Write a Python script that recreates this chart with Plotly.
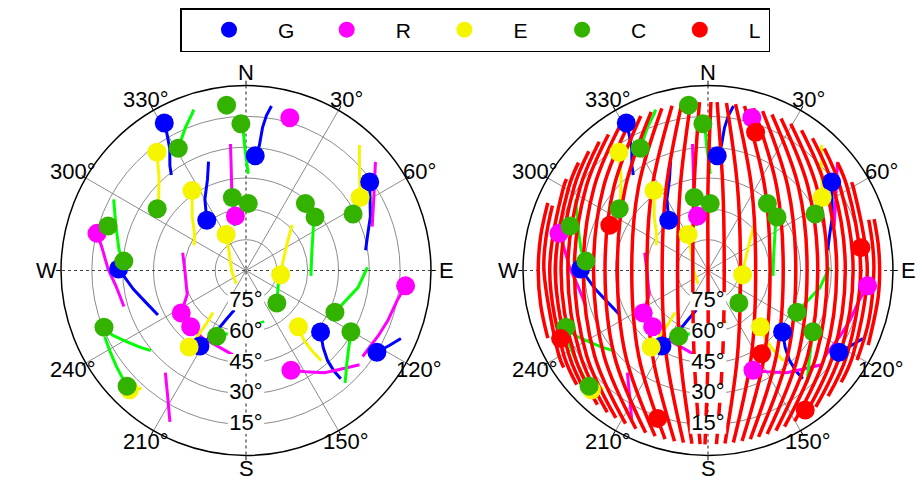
import math
import plotly.graph_objects as go

# ---------------- axes ----------------
AZ_TICKS = [0, 30, 60, 90, 120, 150, 180, 210, 240, 270, 300, 330]
AZ_TEXT = ["N", "30°", "60°", "E", "120°", "150°", "S", "210°", "240°", "W", "300°", "330°"]
EL_RINGS = [75, 60, 45, 30, 15]
EL_TEXT = ["75°", "60°", "45°", "30°", "15°"]
SPOKES_SOLID = [30, 60, 120, 150, 210, 240, 300, 330]
SPOKES_DOTTED = [[0, 180], [90, 270]]

# ---------------- satellite passes (azimuth / elevation, deg) ----------------
# the last point of every pass is the current position
G_AZ = [
    [322, 324, 328, 330, 331],
    [341, 337, 330, 322],
    [8.8, 7.5, 6.6, 6.1, 4.6],
    [80.4, 73.0, 66.5, 54.4],
    [113.7, 117.5, 122.0],
    [138.8, 138.8, 137.8, 134.9, 129.5],
    [196.5, 202.3, 205.9, 211.4],
    [243.2, 252.0, 260.5, 270.7],
]
G_EL = [
    [31, 27, 20, 13, 8],
    [34, 42, 50, 59],
    [9, 14, 20, 29, 34],
    [31, 28, 24, 16],
    [7.7, 11.2, 14.9],
    [20, 25, 31, 37, 43],
    [70, 64, 57, 47],
    [42, 39, 34.5, 28],
]

R_AZ = [
    [353, 352, 350, 349],
    [15.4, 16.0],
    [126.4, 116.0, 109.2, 100.8, 95.5],
    [129.7, 136.3, 142.5, 149.6, 155.7],
    [285.7, 269.5, 247.8, 236.7],
    [185.8, 201.7, 212.1, 224.5],
    [253.6, 263.2, 270.6, 279.3, 284.0],
]
R_EL = [
    [28, 38, 50, 63],
    [10.3, 12.7],
    [19.5, 18.2, 16.8, 14.9, 12.0],
    [18.2, 23.6, 27.3, 32.9, 36.8],
    [58.0, 60.3, 59.1, 52.3],
    [47.5, 50.8, 50.9, 51.6],
    [28.1, 26.3, 22.9, 18.9, 15.3],
]
# passes that have already set (no current position)
R_SET_AZ = [[70.8, 60.3, 50.0], [218.3, 211.9, 206.7]]
R_SET_EL = [[25.0, 18.4, 7.8], [26.7, 17.9, 7.6]]

E_AZ = [
    [308, 317, 323],
    [296, 306, 315, 326],
    [217, 269, 320, 331],
    [42.1, 47.6, 57.4],
    [45.3, 54.1, 75.0, 97.0],
    [140.1, 140.6, 140.3, 137.0],
    [221.5, 224.3],
    [218.2, 216.7, 216.4, 216.6],
]
E_EL = [
    [36, 28, 18],
    [62, 59, 53, 43],
    [82, 83, 77, 70],
    [7.7, 15.3, 24.1],
    [58.4, 64.8, 71.3, 73.0],
    [32.8, 39.6, 45.9, 52.6],
    [13.3, 8.9],
    [64.0, 58.0, 49.9, 43.6],
]

C_AZ = [
    [342, 341, 337, 331],
    [345.5, 348, 349.4],
    [1.3, 0.4, 359.5, 358.9, 358.0],
    [94.7, 75.7, 56.8, 52.2],
    [107.8, 136.5],
    [88.5, 98.7, 107.2, 115.2],
    [138.6, 131.7, 120.3],
    [229.9, 234.2, 239.0, 244.1, 248.2],
    [244.8, 239.6, 233.7, 229.1, 225.8],
    [160.5, 176.1, 184.4, 195.2, 204.0],
    [298.3, 288.7, 279.0, 274.4],
]
C_EL = [
    [7.7, 9.4, 14.5, 22.0],
    [67.7, 59.8, 53.9],
    [43.0, 37.2, 30.6, 22.3, 18.6],
    [58.3, 57.0, 50.8, 47.5],
    [73.4, 68.2],
    [30.9, 34.9, 39.5, 42.2],
    [17.1, 24.1, 30.9],
    [29.5, 26.3, 22.5, 17.9, 15.6],
    [14.1, 13.1, 11.6, 10.4, 9.3],
    [63.6, 62.6, 61.7, 58.2, 55.0],
    [16.9, 23.2, 27.5, 30.4],
]
# geostationary satellites (no visible motion)
C_FIXED_AZ = [304.8, 1.9, 353.3, 41.5, 62.2, 287.9]
C_FIXED_EL = [37.4, 57.4, 9.0, 46.4, 31.1, 19.5]

L_AZ = [
    [357.1, 350.5, 270, 189.3, 182.6],
    [354.1, 341.5, 270, 198.1, 185.3],
    [351.0, 333.3, 270, 206.1, 188.1],
    [347.7, 326.1, 270, 213.1, 191.1],
    [344.1, 320.0, 270, 219.2, 194.3],
    [340.3, 315.1, 270, 224.1, 197.7],
    [336.5, 311.4, 270, 227.7, 201.0],
    [332.5, 308.5, 270, 230.7, 204.5],
    [328.2, 306.1, 270, 233.1, 208.3],
    [323.8, 304.3, 270, 235.0, 212.0],
    [319.8, 303.0, 270, 236.3, 215.4],
    [315.0, 301.8, 270, 237.5, 219.5],
    [309.8, 300.8, 270, 238.5, 223.7],
    [302.9, 299.9, 270, 239.4, 229.0],
    [292.6, 281.4, 270, 240.3, 236.1],
    [292.9, 281.7, 270, 258.3, 247.1],
    [1.0, 0.0, 90, 180.0, 181.0],
    [3.1, 10.1, 90, 170.2, 177.2],
    [6.3, 19.6, 90, 160.9, 174.4],
    [9.4, 27.7, 90, 153.0, 171.6],
    [12.5, 34.3, 90, 146.5, 168.7],
    [15.7, 39.6, 90, 141.2, 165.9],
    [18.9, 43.9, 90, 136.9, 163.1],
    [22.3, 47.5, 90, 133.4, 160.1],
    [25.7, 50.3, 90, 130.5, 157.0],
    [29.4, 52.6, 90, 128.2, 153.9],
    [33.7, 54.8, 90, 126.0, 150.1],
    [38.3, 56.5, 90, 124.3, 146.1],
    [43.6, 57.9, 90, 122.8, 141.7],
    [50.2, 59.2, 90, 121.5, 136.3],
    [58.4, 60.3, 90, 120.4, 130.0],
    [72.5, 81.6, 90, 107.6, 121.0],
    [72.8, 81.1, 90, 98.9, 115.0],
]
L_EL = [
    [8, 49.0, 82.6, 48.1, 5.4],
    [8, 47.4, 75.2, 46.5, 5.4],
    [8, 44.8, 67.7, 43.9, 5.4],
    [8, 41.3, 60.3, 40.6, 5.4],
    [8, 37.3, 52.9, 36.6, 5.4],
    [8, 33.0, 45.9, 32.4, 5.4],
    [8, 28.9, 39.9, 28.4, 5.4],
    [8, 25.0, 34.3, 24.6, 5.4],
    [8, 21.4, 29.3, 21.0, 5.4],
    [8, 18.2, 25.0, 17.9, 5.4],
    [8, 15.8, 21.8, 15.4, 5.4],
    [8, 13.3, 18.5, 13.0, 5.4],
    [8, 11.1, 15.8, 10.8, 5.4],
    [8, 8.9, 13.0, 8.6, 5.4],
    [8, 9.6, 10.2, 6.5, 5.4],
    [5.4, 6.9, 7.4, 6.9, 5.4],
    [8, 49.6, 90, 48.6, 5.4],
    [8, 48.9, 82.1, 48.0, 5.4],
    [8, 47.1, 74.2, 46.2, 5.4],
    [8, 44.4, 66.8, 43.5, 5.4],
    [8, 41.0, 59.8, 40.3, 5.4],
    [8, 37.5, 53.4, 36.9, 5.4],
    [8, 33.9, 47.3, 33.3, 5.4],
    [8, 30.2, 41.8, 29.7, 5.4],
    [8, 26.7, 36.6, 26.2, 5.4],
    [8, 23.4, 32.0, 23.0, 5.4],
    [8, 20.0, 27.4, 19.6, 5.4],
    [8, 16.8, 23.2, 16.5, 5.4],
    [8, 14.0, 19.4, 13.7, 5.4],
    [8, 11.1, 15.8, 10.8, 5.4],
    [8, 8.6, 12.5, 8.3, 5.4],
    [8, 9.0, 9.3, 8.0, 5.4],
    [5.4, 6.2, 6.5, 6.2, 4.0],
]
L_NOW_AZ = [19.0, 294.8, 81.5, 245.2, 198.8, 147.2, 145.1]
L_NOW_EL = [18.9, 37.4, 14.8, 11.0, 14.0, 41.8, 7.3]

# ---------------- styling ----------------
FONT = "Liberation Sans, Arial, sans-serif"
MARK_COLOR = {"G": "#0000ff", "R": "#ff00ff", "E": "#f5f500", "C": "#33b300", "L": "#ff0000"}
TRACK_COLOR = {"G": "#0000ff", "R": "#ff00ff", "E": "#f5f500", "C": "#00ff00", "L": "#ff0000"}
W, H = 918, 480
RADIUS = 185
CENTERS = [(246, 270.5), (708, 270.5)]
AZ_LABEL_DX, AZ_LABEL_DY = 200, 198  # azimuth label distance from the centre, px

TRACKS = {
    "G": [(G_AZ, G_EL)],
    "R": [(R_AZ, R_EL), (R_SET_AZ, R_SET_EL)],
    "E": [(E_AZ, E_EL)],
    "C": [(C_AZ, C_EL)],
    "L": [(L_AZ, L_EL)],
}


def now_positions(system):
    if system == "L":
        return L_NOW_AZ, L_NOW_EL
    az_l, el_l = TRACKS[system][0]
    az = [a[-1] for a in az_l]
    el = [e[-1] for e in el_l]
    if system == "C":
        az += C_FIXED_AZ
        el += C_FIXED_EL
    return az, el


def joined(pairs):
    th, r = [], []
    for az_l, el_l in pairs:
        for a, e in zip(az_l, el_l):
            th += list(a) + [None]
            r += list(e) + [None]
    return th, r


fig = go.Figure()


def add_sky(sub, systems, legend):
    # spokes
    th, r = [], []
    for a in SPOKES_SOLID:
        th += [a, a, None]
        r += [0, 90, None]
    fig.add_trace(go.Scatterpolar(theta=th, r=r, mode="lines", subplot=sub,
                                  line=dict(color="#8c8c8c", width=1),
                                  showlegend=False, hoverinfo="skip"))
    th, r = [], []
    for a, b in SPOKES_DOTTED:
        th += [a, b, None]
        r += [0, 0, None]
    fig.add_trace(go.Scatterpolar(theta=th, r=r, mode="lines", subplot=sub,
                                  line=dict(color="#404040", width=1.2, dash="dot"),
                                  showlegend=False, hoverinfo="skip"))
    # tracks
    for s in systems:
        th, r = joined(TRACKS[s])
        fig.add_trace(go.Scatterpolar(
            theta=th, r=r, mode="lines", subplot=sub,
            line=dict(color=TRACK_COLOR[s], width=3.5 if s == "L" else 3,
                      shape="spline" if s == "L" else "linear"),
            showlegend=False, hoverinfo="skip"))
    # current positions
    for s in systems:
        az, el = now_positions(s)
        fig.add_trace(go.Scatterpolar(
            theta=az, r=el, mode="markers", subplot=sub, name=s,
            marker=dict(size=19, color=MARK_COLOR[s], line=dict(width=0)),
            legendgroup=s, showlegend=legend, hoverinfo="skip"))
    # elevation labels on a white backing
    fig.add_trace(go.Scatterpolar(
        theta=[180] * len(EL_RINGS), r=EL_RINGS, mode="markers", subplot=sub,
        marker=dict(symbol="line-ew", size=26, color="white",
                    line=dict(color="white", width=18)),
        showlegend=False, hoverinfo="skip"))
    fig.add_trace(go.Scatterpolar(
        theta=[180] * len(EL_RINGS), r=EL_RINGS, mode="text", subplot=sub,
        text=EL_TEXT, textposition="middle center",
        textfont=dict(size=22, color="black", family=FONT),
        showlegend=False, hoverinfo="skip"))


add_sky("polar", ["G", "R", "E", "C"], False)
add_sky("polar2", ["G", "R", "E", "C", "L"], True)


def polar_layout(cx, cy):
    return dict(
        domain=dict(x=[(cx - RADIUS) / W, (cx + RADIUS) / W],
                    y=[(H - cy - RADIUS) / H, (H - cy + RADIUS) / H]),
        bgcolor="white",
        angularaxis=dict(
            rotation=90, direction="clockwise",
            tickmode="array", tickvals=AZ_TICKS, ticktext=AZ_TEXT,
            showticklabels=False,
            showgrid=False, showline=True, linecolor="black", linewidth=1.5,
            ticks="outside", ticklen=4, tickcolor="black",
        ),
        radialaxis=dict(
            range=[90, 0], tickmode="array", tickvals=EL_RINGS,
            showticklabels=False, showline=False, ticks="",
            gridcolor="#8c8c8c", gridwidth=1, angle=90,
        ),
    )


# azimuth labels, centred just outside each horizon ring
annotations = []
for cx, cy in CENTERS:
    for az, txt in zip(AZ_TICKS, AZ_TEXT):
        px = cx + AZ_LABEL_DX * math.sin(math.radians(az))
        py = cy - AZ_LABEL_DY * math.cos(math.radians(az))
        annotations.append(dict(
            x=px / W, y=1 - py / H, xref="paper", yref="paper",
            text=txt, showarrow=False, xanchor="center", yanchor="middle",
            font=dict(size=22, color="black", family=FONT),
        ))

fig.update_layout(
    width=W, height=H,
    margin=dict(l=0, r=0, t=0, b=0),
    paper_bgcolor="white",
    font=dict(family=FONT, color="black"),
    polar=polar_layout(*CENTERS[0]),
    polar2=polar_layout(*CENTERS[1]),
    annotations=annotations,
    showlegend=True,
    legend=dict(
        orientation="h", x=180 / W, y=1 - 8 / H, xanchor="left", yanchor="top",
        bgcolor="white", bordercolor="black", borderwidth=1.5,
        font=dict(size=21, color="black", family=FONT),
        itemwidth=88, entrywidth=14.7, entrywidthmode="pixels",
    ),
)

fig.write_html("out.html")
